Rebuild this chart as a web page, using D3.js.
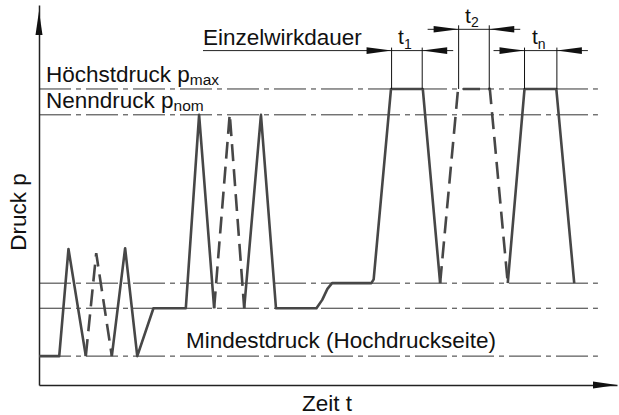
<!DOCTYPE html>
<html>
<head>
<meta charset="utf-8">
<script src="https://cdn.jsdelivr.net/npm/d3@7"></script>
<style>
body{margin:0;background:#fff;}
text{font-family:"Liberation Sans", Arial, Helvetica, sans-serif; fill:#111;}
</style>
</head>
<body>
<div id="chart"></div>
<script>
// pressure levels (axis units, 0..100)
let levelNames = ["pmax", "pnom", "upper", "lower", "pmin"];
let levelValues = [77.9, 71.1, 26.8, 20.2, 7.6];

// pressure trace, pieces of [time, pressure]
let solidA = [[0,7.6],[3.5,7.6],[5.1,35.8],[8.1,7.6]];
let dashed1 = [[8.1,7.6],[9.9,34.7],[12.6,7.6]];
let solidB = [[12.6,7.6],[14.9,36.0],[17.0,7.6],[19.8,20.2],[25.4,20.2],[27.7,71.1],[30.3,20.2]];
let dashed2 = [[30.3,20.2],[33.0,71.3],[35.5,20.2]];
let solidC = [[35.5,20.2],[38.4,71.1],[41.0,20.2],[48.0,20.2],[49.0,22.4],[49.9,25.3],[50.7,26.8],[57.5,26.8],[57.9,27.8],[60.9,77.9],[66.4,77.9],[69.4,26.8]];
let dashed3 = [[69.4,26.8],[72.5,77.9],[78.0,77.9],[81.1,26.8]];
let solidD = [[81.1,26.8],[84.0,77.9],[89.5,77.9],[92.6,26.8]];

// single duration marks t1, t2, tn
let durLabels = ["1", "2", "n"];
let durStart = [61.0, 72.6, 84.0];
let durEnd = [66.3, 77.9, 89.6];
let durRow = [88.0, 93.6, 88.0];

let svgW = 619, svgH = 415;

let svg = d3.select("#chart")
    .append("svg")
    .attr("width", svgW)
    .attr("height", svgH);

let x = d3.scaleLinear().domain([0, 100]).range([39, 617]);
let y = d3.scaleLinear().domain([0, 100]).range([385, 5]);

let line = d3.line()
    .x(d => x(d[0]))
    .y(d => y(d[1]));

// reference levels
svg.append("g")
    .selectAll("line")
    .data(levelValues)
    .enter()
    .append("line")
    .attr("x1", x(0))
    .attr("x2", x(96.7))
    .attr("y1", d => y(d))
    .attr("y2", d => y(d))
    .attr("stroke", "#333")
    .attr("stroke-width", 1)
    .style("stroke-dasharray", "32,5,5,5");

// axes without ticks
svg.append("g")
    .attr("transform", "translate(0," + y(0) + ")")
    .call(d3.axisBottom(x).tickValues([]).tickSizeOuter(0))
    .select(".domain").attr("stroke", "#222").attr("stroke-width", 1.5);

svg.append("g")
    .attr("transform", "translate(" + x(0) + ",0)")
    .call(d3.axisLeft(y).tickValues([]).tickSizeOuter(0))
    .select(".domain").attr("stroke", "#222").attr("stroke-width", 1.5);

// axis arrowheads
svg.append("path")
    .attr("d", "M" + x(0) + "," + (y(100) + 6) + " l-3.5,24 l7,0 z")
    .attr("fill", "#111");
svg.append("path")
    .attr("d", "M" + x(100) + "," + y(0) + " l-24,-3.5 l0,7 z")
    .attr("fill", "#111");

// trace
let solids = [solidA, solidB, solidC, solidD];
let dashes = [dashed1, dashed2, dashed3];

svg.append("g")
    .selectAll("path")
    .data(solids)
    .enter()
    .append("path")
    .attr("d", line)
    .attr("fill", "none")
    .attr("stroke", "#474747")
    .attr("stroke-width", 2.6)
    .attr("stroke-linejoin", "round");

svg.append("g")
    .selectAll("path")
    .data(dashes)
    .enter()
    .append("path")
    .attr("d", line)
    .attr("fill", "none")
    .attr("stroke", "#474747")
    .attr("stroke-width", 2.6)
    .style("stroke-dasharray", "17,8");

// duration dimensions
let dims = svg.append("g");
for (let i = 0; i < durLabels.length; i++) {
    let x1 = x(durStart[i]), x2 = x(durEnd[i]), yr = y(durRow[i]);
    let left = (i == 0) ? 203 : x1 - 31;
    dims.append("line").attr("x1", left).attr("x2", x2 + 31)
        .attr("y1", yr).attr("y2", yr).attr("stroke", "#222").attr("stroke-width", 1);
    [x1, x2].forEach(xv => {
        dims.append("line").attr("x1", xv).attr("x2", xv)
            .attr("y1", yr - (i == 1 ? 4 : 3)).attr("y2", y(levelValues[0]))
            .attr("stroke", "#111").attr("stroke-width", 1);
    });
    dims.append("path").attr("d", "M" + x1 + "," + yr + " l-25,-3.3 l0,6.6 z").attr("fill", "#111");
    dims.append("path").attr("d", "M" + x2 + "," + yr + " l25,-3.3 l0,6.6 z").attr("fill", "#111");
    let t = dims.append("text")
        .attr("x", (x1 + x2) / 2 - 2)
        .attr("y", yr - 6.5)
        .attr("text-anchor", "middle")
        .style("font-size", "21px")
        .text("t");
    t.append("tspan").attr("dy", 4.5).style("font-size", "14px").text(durLabels[i]);
}

// labels
svg.append("text").attr("x", 203).attr("y", 45)
    .style("font-size", "22.5px").text("Einzelwirkdauer");

let tMax = svg.append("text").attr("x", 46).attr("y", y(levelValues[0]) - 7)
    .style("font-size", "22.5px").text("Höchstdruck p");
tMax.append("tspan").attr("dy", 3.5).style("font-size", "15.5px").text("max");

let tNom = svg.append("text").attr("x", 46).attr("y", y(levelValues[1]) - 7)
    .style("font-size", "22.5px").text("Nenndruck p");
tNom.append("tspan").attr("dy", 3.5).style("font-size", "15.5px").text("nom");

svg.append("text").attr("x", 186).attr("y", y(levelValues[4]) - 8)
    .style("font-size", "22.5px").text("Mindestdruck (Hochdruckseite)");

svg.append("text").attr("x", 327).attr("y", 411)
    .attr("text-anchor", "middle")
    .style("font-size", "22.5px").text("Zeit t");

svg.append("text")
    .attr("text-anchor", "middle")
    .attr("transform", "translate(26,212)rotate(-90)")
    .style("font-size", "22.5px").text("Druck p");
</script>
</body>
</html>
